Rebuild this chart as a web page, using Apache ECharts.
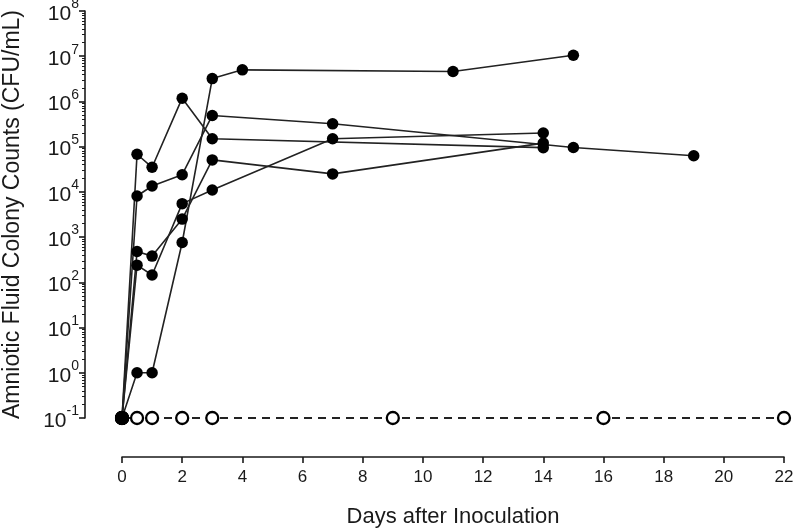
<!DOCTYPE html>
<html>
<head>
<meta charset="utf-8">
<script src="https://cdn.jsdelivr.net/npm/echarts@6/dist/echarts.min.js"></script>
<style>
html,body{margin:0;padding:0;background:#fff;}
#c{width:798px;height:531px;}
</style>
</head>
<body>
<div id="c"></div>
<script>
// Days after inoculation / CFU per mL, one array per animal
const seriesA = [[0,0.1],[0.5,1],[1,1],[2,760],[3,3.2e6],[4,5.0e6],[11,4.6e6],[15,1.05e7]];
const seriesB = [[0,0.1],[0.5,6.8e4],[1,3.5e4],[2,1.18e6],[3,1.5e5],[14,9.5e4]];
const seriesC = [[0,0.1],[0.5,8.1e3],[1,1.35e4],[2,2.4e4],[3,4.9e5],[7,3.2e5],[15,9.6e4],[19,6.3e4]];
const seriesD = [[0,0.1],[0.5,480],[1,380],[2,2.5e3],[3,5.1e4],[7,2.5e4],[14,1.2e5]];
const seriesE = [[0,0.1],[0.5,240],[1,145],[2,5.5e3],[3,1.1e4],[7,1.5e5],[14,2.0e5]];
const controlDays = [0,0.5,1,2,3,9,16,22];
const controlValues = [0.1,0.1,0.1,0.1,0.1,0.1,0.1,0.1];
const xTicks = [0,2,4,6,8,10,12,14,16,18,20,22];
const yExponents = [-1,0,1,2,3,4,5,6,7,8];

const INK = '#1a1a1a';
const sans = '"Liberation Sans",Arial,sans-serif';

const controlData = controlDays.map((d,i)=>[d,controlValues[i]]);

function solid(data){
  return {
    type:'line', data:data, symbol:'circle',
    symbolSize:function(v){ return v[0]===0 ? 14 : 11.5; },
    itemStyle:{color:'#000'},
    lineStyle:{color:'#222', width:1.6},
    z:3, animation:false
  };
}

const chart = echarts.init(document.getElementById('c'), null, {renderer:'canvas'});
chart.setOption({
  backgroundColor:'#fff',
  animation:false,
  grid:{left:122, right:14, top:11, bottom:113, containLabel:false, outerBoundsMode:'none'},
  xAxis:{
    type:'value', min:0, max:22, interval:2, offset:39,
    axisLine:{onZero:false, lineStyle:{color:INK, width:1.6}},
    axisTick:{show:true, length:6, lineStyle:{color:INK, width:1.6}},
    splitLine:{show:false},
    axisLabel:{
      color:INK, fontFamily:sans, fontSize:17, margin:12,
      formatter:function(v){ return xTicks.indexOf(v)>=0 ? String(v) : ''; }
    },
    name:'Days after Inoculation', nameLocation:'middle', nameGap:49,
    nameTextStyle:{color:INK, fontFamily:sans, fontSize:22}
  },
  yAxis:{
    type:'log', logBase:10, min:0.1, max:1e8, offset:37,
    axisLine:{show:true, onZero:false, lineStyle:{color:INK, width:1.6}},
    axisTick:{show:true, length:6, lineStyle:{color:INK, width:1.6}},
    minorTick:{show:true, splitNumber:9, length:3, lineStyle:{color:INK, width:1}},
    splitLine:{show:false},
    axisLabel:{
      margin:6,
      formatter:function(v){
        const e = Math.round(Math.log10(v));
        if (yExponents.indexOf(e)<0) return '';
        return '{b|10}{s|' + e + '}';
      },
      rich:{
        b:{color:INK, fontFamily:sans, fontSize:21, verticalAlign:'bottom', padding:[6,0,0,0]},
        s:{color:INK, fontFamily:sans, fontSize:14, verticalAlign:'top', padding:[0,0,10,0]}
      }
    },
    name:'Amniotic Fluid Colony Counts (CFU/mL)', nameLocation:'middle', nameGap:61, nameRotate:90,
    nameTextStyle:{color:INK, fontFamily:sans, fontSize:23}
  },
  series:[
    {
      type:'line', data:controlData, symbol:'circle', symbolSize:12,
      itemStyle:{color:'#fff', borderColor:'#000', borderWidth:2.3},
      lineStyle:{color:'#222', width:1.8, type:[8,6]},
      z:2, animation:false
    },
    solid(seriesA), solid(seriesB), solid(seriesC), solid(seriesD), solid(seriesE)
  ]
});
</script>
</body>
</html>
